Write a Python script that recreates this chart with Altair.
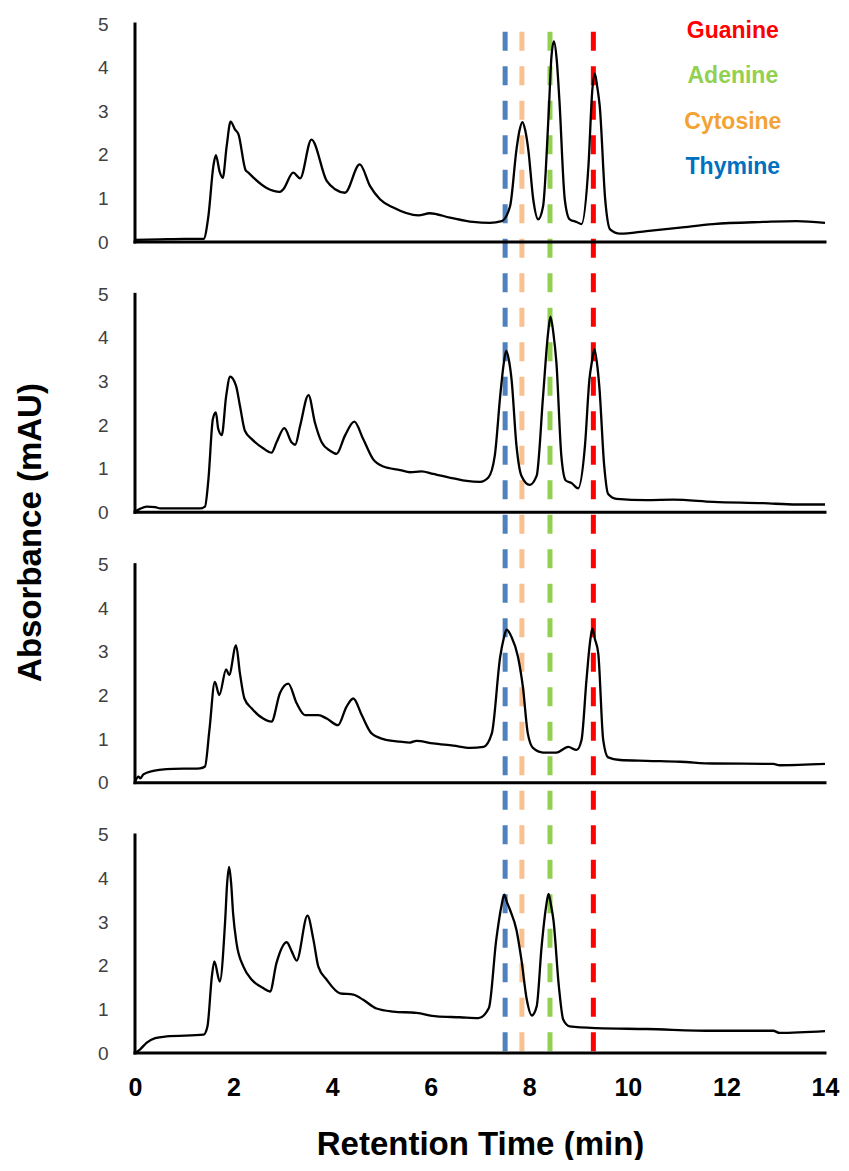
import altair as alt
import pandas as pd

# ---- chromatogram data: retention time (min) and absorbance (mAU) ----
t1 = [0, 0.5, 1.0, 1.39, 1.49, 1.59, 1.64, 1.72, 1.78, 1.86, 1.94, 2.03, 2.10, 2.24, 2.30,
      2.67, 2.94, 3.01, 3.21, 3.35, 3.58, 3.89, 4.06, 4.26, 4.56, 4.77, 4.97, 5.24, 5.75, 5.98,
      6.39, 6.86, 7.20, 7.44, 7.61, 7.74, 7.80, 7.86, 7.92, 7.98, 8.08, 8.18, 8.28, 8.39, 8.45,
      8.50, 8.555, 8.61, 8.72, 8.82, 8.96, 9.06, 9.20, 9.28, 9.33, 9.38, 9.43, 9.54, 9.64, 9.84,
      10.38, 11.06, 11.73, 12.75, 13.42, 14.0]
a1 = [0.05, 0.06, 0.07, 0.07, 0.6, 1.74, 1.99, 1.6, 1.47, 2.2, 2.76, 2.58, 2.47, 1.66, 1.59,
      1.24, 1.15, 1.21, 1.59, 1.46, 2.35, 1.40, 1.21, 1.13, 1.78, 1.28, 0.98, 0.79, 0.61, 0.66,
      0.56, 0.46, 0.44, 0.48, 0.82, 2.12, 2.55, 2.75, 2.55, 2.12, 0.98, 0.52, 0.82, 2.88, 4.25,
      4.60, 4.20, 3.27, 0.98, 0.52, 0.46, 0.41, 1.74, 3.50, 3.86, 3.55, 3.11, 0.98, 0.29, 0.19,
      0.25, 0.33, 0.41, 0.46, 0.48, 0.44]

t2 = [0, 0.10, 0.24, 0.41, 0.51, 1.32, 1.42, 1.49, 1.58, 1.64, 1.69, 1.76, 1.85, 1.93, 2.05,
      2.13, 2.23, 2.37, 2.60, 2.77, 2.87, 3.03, 3.18, 3.25, 3.35, 3.52, 3.65, 3.79, 3.96, 4.09,
      4.26, 4.45, 4.63, 4.83, 5.04, 5.38, 5.58, 5.81, 6.05, 6.46, 6.73, 7.00, 7.17, 7.30, 7.41,
      7.48, 7.53, 7.585, 7.64, 7.74, 7.84, 8.01, 8.15, 8.28, 8.38, 8.43, 8.49, 8.55, 8.65, 8.74,
      8.86, 8.99, 9.13, 9.22, 9.27, 9.32, 9.37, 9.42, 9.52, 9.60, 9.77, 10.38, 10.92, 11.73,
      12.75, 13.42, 14.0]
a2 = [0.02, 0.08, 0.13, 0.12, 0.09, 0.09, 0.13, 0.76, 2.14, 2.29, 1.91, 1.77, 2.67, 3.11, 2.90,
      2.44, 1.87, 1.68, 1.47, 1.37, 1.60, 1.93, 1.60, 1.55, 1.98, 2.69, 2.06, 1.60, 1.41, 1.34,
      1.76, 2.08, 1.68, 1.22, 1.05, 0.97, 0.92, 0.94, 0.88, 0.78, 0.72, 0.70, 0.80, 1.30, 2.67,
      3.40, 3.70, 3.50, 3.05, 1.53, 0.84, 0.63, 0.84, 2.67, 4.10, 4.49, 4.10, 3.44, 1.30, 0.73,
      0.67, 0.55, 1.53, 3.05, 3.45, 3.74, 3.45, 2.90, 1.07, 0.42, 0.31, 0.28, 0.29, 0.24,
      0.21, 0.18, 0.18]

t3 = [0, 0.07, 0.11, 0.17, 0.37, 0.64, 1.32, 1.42, 1.51, 1.62, 1.71, 1.85, 1.91, 2.05, 2.13,
      2.22, 2.37, 2.60, 2.77, 2.94, 3.11, 3.28, 3.45, 3.72, 3.89, 4.12, 4.29, 4.43, 4.60, 4.80,
      5.04, 5.38, 5.58, 5.71, 6.05, 6.46, 6.80, 7.07, 7.24, 7.41, 7.48, 7.54, 7.64, 7.77, 7.87,
      7.97, 8.08, 8.28, 8.55, 8.79, 8.96, 9.06, 9.16, 9.23, 9.28, 9.33, 9.40, 9.50, 9.60, 9.84,
      10.38, 11.06, 11.73, 12.95, 13.08, 14.0]
a3 = [0.02, 0.14, 0.10, 0.19, 0.27, 0.31, 0.33, 0.37, 1.21, 2.31, 2.01, 2.60, 2.47, 3.15, 2.50,
      1.93, 1.70, 1.47, 1.40, 2.05, 2.27, 1.82, 1.55, 1.55, 1.47, 1.32, 1.74, 1.93, 1.55, 1.13,
      1.00, 0.94, 0.92, 0.96, 0.90, 0.85, 0.80, 0.82, 1.13, 2.89, 3.30, 3.51, 3.34, 2.89, 2.20,
      1.13, 0.79, 0.69, 0.69, 0.82, 0.75, 0.98, 2.35, 3.20, 3.53, 3.30, 2.96, 0.98, 0.58, 0.52,
      0.50, 0.48, 0.44, 0.43, 0.40, 0.43]

t4 = [0, 0.10, 0.24, 0.41, 0.64, 1.39, 1.47, 1.56, 1.61, 1.72, 1.83, 1.87, 1.91, 1.95, 1.99,
      2.06, 2.20, 2.37, 2.60, 2.74, 2.87, 3.08, 3.18, 3.28, 3.50, 3.62, 3.72, 3.89, 4.16, 4.43,
      4.63, 4.90, 5.24, 5.71, 6.12, 6.59, 6.97, 7.18, 7.33, 7.44, 7.49, 7.55, 7.61, 7.74, 7.84,
      7.95, 8.05, 8.15, 8.25, 8.34, 8.39, 8.44, 8.49, 8.60, 8.69, 8.82, 9.37, 10.38, 11.73,
      12.95, 13.08, 14.0]
a4 = [0, 0.08, 0.24, 0.34, 0.38, 0.42, 0.61, 1.76, 2.10, 1.64, 3.05, 3.90, 4.27, 3.90, 3.21,
      2.52, 1.98, 1.68, 1.49, 1.41, 2.06, 2.54, 2.33, 2.12, 3.15, 2.60, 1.98, 1.68, 1.37, 1.34,
      1.22, 1.02, 0.95, 0.92, 0.84, 0.82, 0.80, 1.03, 2.6, 3.40, 3.63, 3.45, 3.28, 2.82, 2.14,
      1.22, 0.86, 1.07, 2.44, 3.35, 3.65, 3.40, 3.05, 1.53, 0.76, 0.61, 0.57, 0.55, 0.51,
      0.51, 0.46, 0.50]

# reference retention times of the nucleobases (dashed markers)
marker_names = ["Thymine", "Cytosine", "Adenine", "Guanine"]
marker_times = [7.51, 7.85, 8.42, 9.30]

# legend text, top to bottom
legend_names = ["Guanine", "Adenine", "Cytosine", "Thymine"]

x_ticks = [0, 2, 4, 6, 8, 10, 12, 14]
y_ticks = [0, 1, 2, 3, 4, 5]

# ---- layout / style (not data) ----
PANEL_STEP = 6.2          # vertical offset between stacked panels (in mAU units)
N_PANELS = 4
Y_TOP = PANEL_STEP * (N_PANELS - 1) + 5
X_MAX = 14
FONT = "Liberation Sans"
marker_colors = ["#4F81BD", "#FAC090", "#92D050", "#FF0000"]
legend_colors = ["#FF0000", "#92D050", "#F3A234", "#0070C0"]

series = [(t1, a1), (t2, a2), (t3, a3), (t4, a4)]
rows = []
for i, (ts, as_) in enumerate(series):
    off = PANEL_STEP * (N_PANELS - 1 - i)
    for t, a in zip(ts, as_):
        rows.append({"panel": i, "t": t, "a": a, "off": off})
curves = pd.DataFrame(rows)

frames = pd.DataFrame({
    "off": [PANEL_STEP * (N_PANELS - 1 - i) for i in range(N_PANELS)],
})
frames["top"] = frames["off"] + max(y_ticks)
frames["xmin"] = 0
frames["xmax"] = X_MAX

markers = pd.DataFrame({"name": marker_names, "t": marker_times})
legend_df = pd.DataFrame({
    "name": legend_names,
    "t": [12.13] * len(legend_names),
    "y": [Y_TOP - 0.16 - 1.04 * k for k in range(len(legend_names))],
})

y_vals = [PANEL_STEP * p + v for p in range(N_PANELS) for v in y_ticks]
y_scale = alt.Scale(domain=[0, Y_TOP], nice=False, zero=False)
x_scale = alt.Scale(domain=[0, X_MAX], nice=False, zero=False)

x_axis = alt.Axis(values=x_ticks, title="Retention Time (min)", grid=False, domain=False,
                  ticks=False, tickSize=0, labelFont=FONT, labelFontSize=25,
                  labelFontWeight="bold", labelColor="black", labelPadding=22,
                  labelFlush=False, labelOverlap=False, titleFont=FONT, titleFontSize=33,
                  titleFontWeight="bold", titleColor="black", titleY=75,
                  titleBaseline="top")
y_axis = alt.Axis(values=y_vals,
                  labelExpr=f"format(datum.value - {PANEL_STEP}*floor((datum.value + 0.01)/{PANEL_STEP}), '.0f')",
                  title="Absorbance (mAU)", grid=False, domain=False, ticks=False,
                  tickSize=0, labelFont=FONT, labelFontSize=19, labelColor="#404040",
                  labelPadding=27, labelOverlap=False, titleFont=FONT, titleFontSize=33,
                  titleFontWeight="bold", titleColor="black", titleAngle=270,
                  titleAlign="center", titleBaseline="alphabetic", titleX=-95, titleY=508)

dash = alt.Chart(markers).mark_rule(strokeWidth=5, strokeDash=[19, 15.5]).encode(
    x=alt.X("t:Q", scale=x_scale, axis=x_axis),
    y=alt.Y(datum=Y_TOP - 0.18, scale=y_scale, axis=y_axis),
    y2=alt.datum(0),
    color=alt.Color("name:N", scale=alt.Scale(domain=marker_names, range=marker_colors),
                    legend=None),
)

lines = alt.Chart(curves).transform_calculate(
    y="datum.a + datum.off"
).mark_line(color="black", strokeWidth=2.3, interpolate="monotone").encode(
    x=alt.X("t:Q", scale=x_scale, axis=x_axis),
    y=alt.Y("y:Q", scale=y_scale, axis=y_axis),
    detail="panel:N",
)

base_rules = alt.Chart(frames).mark_rule(color="black", strokeWidth=3, strokeCap="square").encode(
    x=alt.X("xmin:Q", scale=x_scale, axis=x_axis),
    x2="xmax:Q",
    y=alt.Y("off:Q", scale=y_scale, axis=y_axis),
)
axis_rules = alt.Chart(frames).mark_rule(color="black", strokeWidth=3, strokeCap="square").encode(
    x=alt.X("xmin:Q", scale=x_scale, axis=x_axis),
    y=alt.Y("off:Q", scale=y_scale, axis=y_axis),
    y2="top:Q",
)

legend_text = alt.Chart(legend_df).mark_text(
    font=FONT, fontSize=23, fontWeight="bold", align="center", baseline="middle"
).encode(
    x=alt.X("t:Q", scale=x_scale, axis=x_axis),
    y=alt.Y("y:Q", scale=y_scale, axis=y_axis),
    text="name:N",
    color=alt.Color("name:N", scale=alt.Scale(domain=legend_names, range=legend_colors),
                    legend=None),
)

chart = alt.layer(dash, lines, base_rules, axis_rules, legend_text).resolve_scale(
    color="independent"
).properties(
    width=690, height=1029,
    autosize=alt.AutoSizeParams(type="none"),
    padding={"left": 127, "top": 16, "right": 16, "bottom": 107},
    background="white",
).configure_view(stroke=None)

chart.save("out.html", embed_options={"renderer": "svg", "actions": False})
